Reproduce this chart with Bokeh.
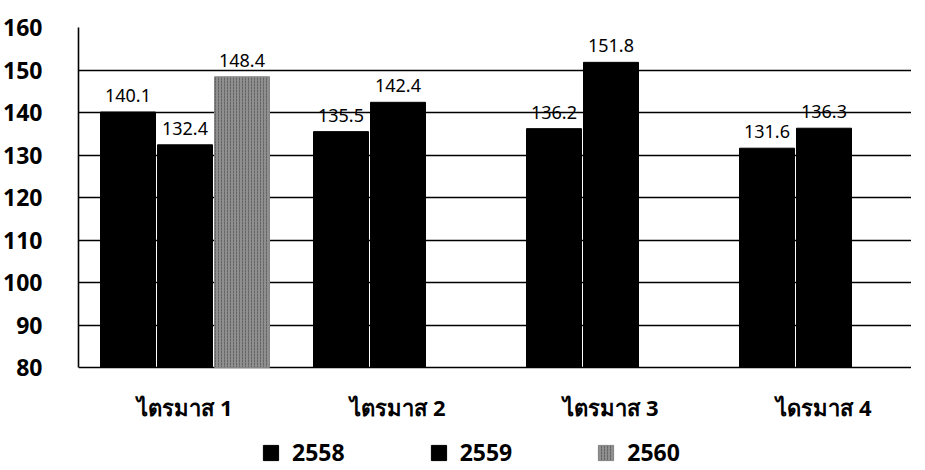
import numpy as np
from bokeh.plotting import figure
from bokeh.models import (ColumnDataSource, Range1d, FixedTicker, Legend,
                          LegendItem, LabelSet)
from bokeh.transform import dodge
from bokeh.core.properties import value
from bokeh.embed import file_html
from bokeh.resources import INLINE

# ---- data ----
quarters = ["ไตรมาส 1", "ไตรมาส 2", "ไตรมาส 3", "ไดรมาส 4"]
years = ["2558", "2559", "2560"]
v2558 = [140.1, 135.5, 136.2, 131.6]
v2559 = [132.4, 142.4, 151.8, 136.3]
v2560 = [148.4, np.nan, np.nan, np.nan]
y_ticks = [80, 90, 100, 110, 120, 130, 140, 150, 160]

# ---- layout constants ----
FONT = "Noto Sans"
LEFT, TOP, BOTTOM = 76, 27, 0
FRAME_W = 833
AXIS_H = 340                 # pixels covered by 80..160
EXTRA_H = 101                # room below the value axis for labels + legend
FRAME_H = AXIS_H + EXTRA_H
CAT_PX = 213.0
BAR_W = 55 / CAT_PX
STEP = 57 / CAT_PX
px_per_unit = AXIS_H / (y_ticks[-1] - y_ticks[0])
y_low = y_ticks[0] - EXTRA_H / px_per_unit

pos = np.arange(len(quarters)) + 0.5


def fmt(v):
    return "" if np.isnan(v) else f"{v:.1f}"


src = ColumnDataSource(dict(
    x=pos,
    y2558=v2558, y2559=v2559, y2560=v2560,
    t2558=[fmt(v) for v in v2558],
    t2559=[fmt(v) for v in v2559],
    t2560=[fmt(v) for v in v2560],
))
cat_src = ColumnDataSource(dict(x=pos, y=[y_ticks[0]] * len(quarters), q=quarters))

p = figure(frame_width=FRAME_W, frame_height=FRAME_H,
           x_range=Range1d(0, FRAME_W / CAT_PX),
           y_range=Range1d(y_low, y_ticks[-1]),
           output_backend="svg", toolbar_location=None,
           min_border_left=LEFT, min_border_right=0,
           min_border_top=TOP, min_border_bottom=BOTTOM)
p.outline_line_color = None
p.background_fill_color = "white"
p.border_fill_color = "white"

# grid (80 line doubles as the base line, 160 line as the top border)
p.xgrid.visible = False
p.ygrid.ticker = FixedTicker(ticks=y_ticks)
p.ygrid.grid_line_color = "black"
p.ygrid.grid_line_width = 1.6

# y axis
p.yaxis.ticker = FixedTicker(ticks=y_ticks)
p.yaxis.bounds = (y_ticks[0], y_ticks[-1])
p.yaxis.axis_line_color = "black"
p.yaxis.axis_line_width = 1.6
p.yaxis.major_tick_line_color = None
p.yaxis.minor_tick_line_color = None
p.yaxis.major_label_text_font = FONT
p.yaxis.major_label_text_font_style = "bold"
p.yaxis.major_label_text_font_size = "23px"
p.yaxis.major_label_text_color = "black"
p.yaxis.major_label_standoff = 30

# category labels (x axis)
p.xaxis.visible = False
cat_labels = LabelSet(x="x", y="y", text="q", source=cat_src,
                      text_align="center", text_baseline="middle", y_offset=-39,
                      text_font=value(FONT), text_font_style="bold",
                      text_font_size="22px", text_color="black")
p.add_layout(cat_labels)

# bars
styles = {
    "2558": dict(fill_color="black", line_color="black"),
    "2559": dict(fill_color="black", line_color="black"),
    "2560": dict(fill_color="#8f8f8f", line_color="#858585",
                 hatch_pattern=":", hatch_color="#3a3a3a", hatch_scale=3,
                 hatch_alpha=0.5),
}
offsets = {"2558": -STEP, "2559": 0.0, "2560": STEP}
renderers = {}
for yr in years:
    r = p.vbar(x=dodge("x", offsets[yr], range=p.x_range), top="y" + yr,
               bottom=y_ticks[0], width=BAR_W, source=src, **styles[yr])
    renderers[yr] = r
    labels = LabelSet(x=dodge("x", offsets[yr], range=p.x_range), y="y" + yr,
                      text="t" + yr, source=src, text_align="center",
                      text_baseline="bottom", y_offset=10,
                      text_font=value(FONT), text_font_size="18px",
                      text_color="black")
    p.add_layout(labels)

legend = Legend(items=[LegendItem(label=yr, renderers=[renderers[yr]]) for yr in years],
                orientation="horizontal", location=(183, 0),
                border_line_color=None, background_fill_alpha=0,
                glyph_width=19, glyph_height=19, label_standoff=12,
                spacing=84, padding=0, margin=0, label_height=19,
                label_text_line_height=0.8,
                label_text_font=FONT, label_text_font_style="bold",
                label_text_font_size="23px", label_text_color="black")
p.add_layout(legend, "center")

open("out.html", "w").write(file_html(p, INLINE))
